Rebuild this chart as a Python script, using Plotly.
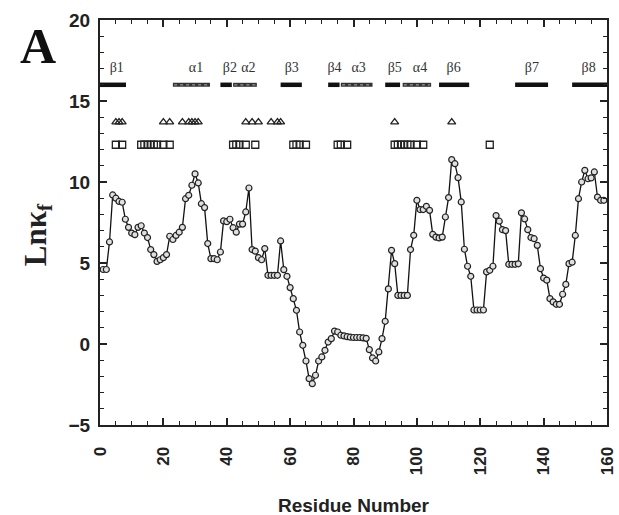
import plotly.graph_objects as go

# ---- data ----
residues = list(range(1, 160))
lnkf = [4.6, 4.6, 6.3, 9.2, 9.0, 8.8, 8.75, 7.7, 7.2, 6.85,
        6.75, 7.2, 7.3, 6.85, 6.57, 5.83, 5.52, 5.1, 5.2, 5.33,
        5.52, 6.65, 6.45, 6.7, 6.9, 7.2, 8.97, 9.18, 9.8, 10.5,
        9.94, 8.66, 8.42, 6.2, 5.27, 5.27, 5.2, 5.68, 7.6, 7.55,
        7.7, 7.18, 6.9, 7.4, 7.4, 8.15, 9.63, 5.83, 5.73, 5.33,
        5.2, 5.89, 4.24, 4.24, 4.24, 4.24, 6.36, 4.59, 4.18, 3.48,
        2.8, 2.08, 0.74, -0.08, -1.05, -2.14, -2.45, -1.93, -1.05, -0.8,
        -0.39, 0.12, 0.33, 0.8, 0.74, 0.54, 0.5, 0.45, 0.42, 0.4,
        0.4, 0.4, 0.38, 0.35, -0.35, -0.86, -1.05, -0.49, 0.33, 1.4,
        3.4, 5.78, 4.96, 3.0, 3.0, 3.0, 3.0, 5.83, 6.71, 8.87,
        8.3, 8.3, 8.5, 8.25, 6.77, 6.6, 6.55, 6.6, 7.84, 9.04,
        11.38, 11.13, 10.27, 8.77, 5.85, 4.8, 4.18, 2.1, 2.1, 2.1,
        2.1, 4.45, 4.55, 4.8, 7.93, 7.58, 7.06, 7.0, 4.92, 4.92,
        4.92, 4.95, 8.1, 7.72, 7.06, 6.57, 6.5, 6.09, 4.65, 4.07,
        3.94, 2.8, 2.6, 2.45, 2.45, 3.07, 3.68, 4.96, 5.05, 6.7,
        8.97, 10.0, 10.72, 10.2, 10.25, 10.62, 9.07, 8.87, 8.87]

triangle_res = [5, 6, 7, 20, 22, 26, 28, 29, 30, 31, 46, 48, 50, 54, 56, 57, 93, 111]
triangle_level = 13.7
square_res = [5, 7, 13, 14, 15, 16, 17, 18, 20, 22, 42, 43, 44, 46, 49,
              61, 62, 63, 65, 75, 76, 78, 93, 94, 95, 96, 97, 98, 100, 102, 123]
square_level = 12.3

ss_names = ["β1", "α1", "β2", "α2", "β3", "β4", "α3", "β5", "α4", "β6", "β7", "β8"]
ss_start = [0, 23, 38, 42, 57, 72, 76, 90, 95.5, 107, 131, 149]
ss_end = [8.2, 34.7, 41.6, 49.5, 63.7, 75.6, 86, 94.7, 104.5, 116.5, 141.4, 160]
ss_label_x = [5.3, 30.3, 41, 46.8, 60.5, 74, 81.6, 93, 101, 111.6, 136.3, 154.2]
ss_level = 16
ss_label_level = 17.0

x_ticks = [0, 20, 40, 60, 80, 100, 120, 140, 160]
y_ticks = [-5, 0, 5, 10, 15, 20]

fig = go.Figure()

# secondary structure bars
for name, s, e in zip(ss_names, ss_start, ss_end):
    if name.startswith("β"):
        fig.add_trace(go.Scatter(x=[s, e], y=[ss_level, ss_level], mode="lines",
                                 line=dict(color="#111", width=4.5), showlegend=False,
                                 hoverinfo="skip"))
    else:
        fig.add_trace(go.Scatter(x=[s, e], y=[ss_level, ss_level], mode="lines",
                                 line=dict(color="#333", width=4), showlegend=False,
                                 hoverinfo="skip"))
        fig.add_trace(go.Scatter(x=[s + 0.4, e - 0.4], y=[ss_level, ss_level], mode="lines",
                                 line=dict(color="#999", width=1.3, dash="dot"),
                                 showlegend=False, hoverinfo="skip"))

fig.add_trace(go.Scatter(x=ss_label_x, y=[ss_label_level] * len(ss_names), mode="text",
                         text=ss_names, textfont=dict(family="Liberation Serif", size=14, color="#333"),
                         showlegend=False, hoverinfo="skip"))

# triangles and squares
fig.add_trace(go.Scatter(x=triangle_res, y=[triangle_level] * len(triangle_res), mode="markers",
                         marker=dict(symbol="triangle-up-open", size=7, color="#222",
                                     line=dict(width=1.3)),
                         showlegend=False))
fig.add_trace(go.Scatter(x=square_res, y=[square_level] * len(square_res), mode="markers",
                         marker=dict(symbol="square-open", size=7, color="#222",
                                     line=dict(width=1.3)),
                         showlegend=False))

# main data
fig.add_trace(go.Scatter(x=residues, y=lnkf, mode="lines+markers",
                         line=dict(color="#111", width=1.3),
                         marker=dict(symbol="circle", size=6, color="#e0e0e0",
                                     line=dict(color="#222", width=1.2)),
                         showlegend=False))

axis_common = dict(showgrid=False, zeroline=False, showline=True, linecolor="#222", linewidth=2,
                   mirror="allticks", ticks="inside", tickcolor="#222", tickwidth=1.5, ticklen=7,
                   automargin=False)

fig.update_xaxes(range=[0, 160], tickvals=x_ticks, tickangle=-90, ticklabelstandoff=13,
                 tickfont=dict(family="Liberation Sans", size=17, color="#222", weight="bold"),
                 minor=dict(dtick=5, ticks="inside", ticklen=4, tickcolor="#222", tickwidth=1.2),
                 **axis_common)
fig.update_yaxes(range=[-5, 20], tickvals=y_ticks, ticklabelstandoff=4,
                 tickfont=dict(family="Liberation Sans", size=19, color="#222", weight="bold"),
                 minor=dict(dtick=1, ticks="inside", ticklen=4, tickcolor="#222", tickwidth=1.2),
                 **axis_common)

fig.add_annotation(text="Residue Number", xref="paper", yref="paper", x=0.5, y=-0.198,
                   showarrow=False, xanchor="center", yanchor="middle",
                   font=dict(family="Liberation Sans", size=19, color="#222", weight="bold"))
fig.add_annotation(text="Lnκ<sub>f</sub>", xref="paper", yref="paper", x=-0.123, y=0.47,
                   showarrow=False, textangle=-90, xanchor="center", yanchor="middle",
                   font=dict(family="Liberation Serif", size=31, color="#222", weight="bold"))
fig.add_annotation(text="A", xref="paper", yref="paper", x=-0.123, y=0.935,
                   showarrow=False, xanchor="center", yanchor="middle",
                   font=dict(family="Liberation Serif", size=50, color="#111", weight="bold"))

fig.update_layout(width=619, height=515, margin=dict(l=100, r=12, t=20, b=90),
                  plot_bgcolor="white", paper_bgcolor="white")

fig.write_html("out.html")
